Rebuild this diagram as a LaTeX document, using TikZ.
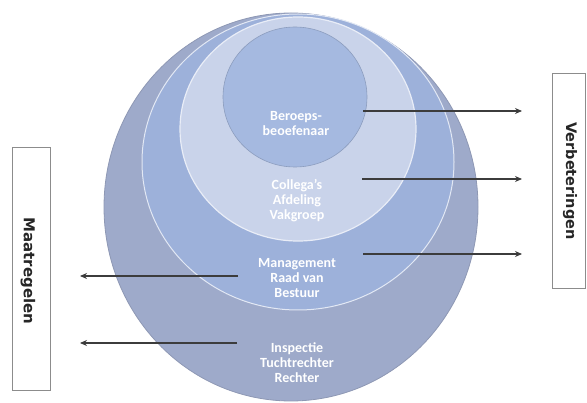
\documentclass[tikz,border=0pt]{standalone}
\usepackage{fontspec}
\setmainfont{Carlito}
\newfontfamily\boxfont{DejaVu Sans}
\usetikzlibrary{arrows.meta}
\definecolor{ringA}{HTML}{9EAACA}
\definecolor{ringB}{HTML}{9DB1DA}
\definecolor{ringC}{HTML}{C9D3EA}
\definecolor{ringD}{HTML}{A5B9E0}
\definecolor{rimA}{HTML}{8E98B4}
\definecolor{arrowcol}{HTML}{3C3C3C}
\definecolor{boxline}{HTML}{8C8C8C}
\tikzset{
  px/.style={x=1pt,y=-1pt},
  lbl/.style={text=white,align=center,font=\bfseries\fontsize{14}{15}\selectfont,inner sep=0pt},
  sidebox/.style={draw=boxline,line width=0.6pt,fill=white,inner sep=0pt},
  sidetext/.style={font=\boxfont\bfseries\fontsize{15}{16}\selectfont,text=black!85,rotate=-90,inner sep=0pt},
  conn/.style={draw=arrowcol,line width=1.1pt,-{Stealth[length=7pt,width=6pt]}}
}
\begin{document}
\begin{tikzpicture}[px]
\useasboundingbox (0,0) rectangle (587,403);
% circles
\fill[ringA,draw=rimA,line width=0.8pt] (291,207) ellipse [x radius=187,y radius=194];
\fill[ringB,draw=white!70!ringB,line width=1pt] (298,162) ellipse [x radius=156,y radius=148];
\fill[ringC,draw=white!60!ringC,line width=1.2pt] (298,129) ellipse [x radius=118,y radius=112];
\fill[ringD,draw=ringD!85!black,line width=0.6pt] (295,97) ellipse [x radius=72,y radius=70];
% labels
\node[lbl] (beroeps) at (296,124) {Beroeps-\\beoefenaar};
\node[lbl] (collega) at (297,201) {Collega's\\Afdeling\\Vakgroep};
\node[lbl] (mgmt) at (297,278) {Management\\Raad van\\Bestuur};
\node[lbl] (insp) at (297,363) {Inspectie\\Tuchtrechter\\Rechter};
% side boxes
\node[sidebox,minimum width=38pt,minimum height=243pt] (maat) at (31,268.5) {};
\node[sidetext] (maattext) at (28,271) {Maatregelen};
\node[sidebox,minimum width=33pt,minimum height=215pt] (verb) at (568.5,180.5) {};
\node[sidetext,font=\boxfont\bfseries\fontsize{14.5}{16}\selectfont] (verbtext) at (570,181) {Verbeteringen};
% connector coordinates
\coordinate (r1s) at (363,111); \coordinate (r1e) at (522,111);
\coordinate (r2s) at (362,179); \coordinate (r2e) at (522,179);
\coordinate (r3s) at (363,254); \coordinate (r3e) at (522,254);
\coordinate (l1s) at (238,276); \coordinate (l1e) at (80,276);
\coordinate (l2s) at (237,343); \coordinate (l2e) at (80,343);
\draw[conn] (r1s) -- (r1e);
\draw[conn] (r2s) -- (r2e);
\draw[conn] (r3s) -- (r3e);
\draw[conn] (l1s) -- (l1e);
\draw[conn] (l2s) -- (l2e);
\end{tikzpicture}
\end{document}
